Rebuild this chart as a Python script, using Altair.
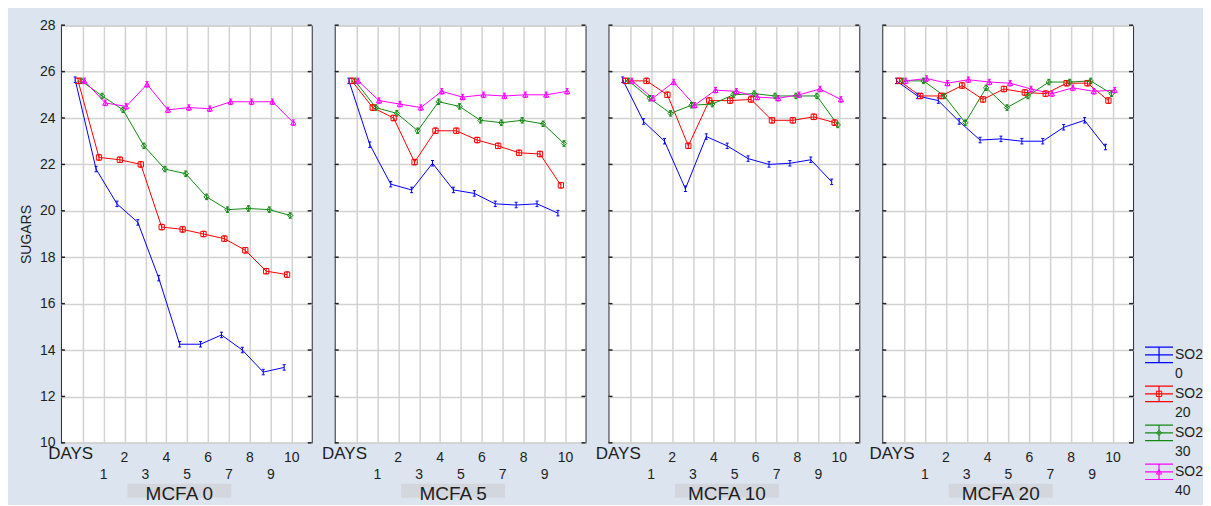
import altair as alt
import pandas as pd

# ---------------- data ----------------
DAYS = list(range(11))
DAY_LABELS = ["DAYS", "1", "2", "3", "4", "5", "6", "7", "8", "9", "10"]
SERIES = ["SO2 0", "SO2 20", "SO2 30", "SO2 40"]
PANELS = ["MCFA 0", "MCFA 5", "MCFA 10", "MCFA 20"]
Y_TICKS = list(range(10, 29, 2))

# MCFA 0
mcfa0_so2_0 = [25.65, 21.8, 20.3, 19.5, 17.1, 14.25, 14.25, 14.65, 14.0, 13.05, 13.25]
mcfa0_so2_20 = [25.6, 22.3, 22.2, 22.0, 19.3, 19.2, 19.0, 18.8, 18.3, 17.4, 17.25]
mcfa0_so2_30 = [25.6, 24.95, 24.35, 22.8, 21.8, 21.6, 20.6, 20.05, 20.1, 20.05, 19.8]
mcfa0_so2_40 = [25.6, 24.65, 24.5, 25.45, 24.35, 24.45, 24.4, 24.7, 24.7, 24.7, 23.8]
# MCFA 5
mcfa5_so2_0 = [25.6, 22.85, 21.15, 20.9, 22.05, 20.9, 20.75, 20.3, 20.25, 20.3, 19.9]
mcfa5_so2_20 = [25.6, 24.45, 24.0, 22.1, 23.45, 23.45, 23.05, 22.8, 22.5, 22.45, 21.1]
mcfa5_so2_30 = [25.6, 24.45, 24.2, 23.45, 24.7, 24.5, 23.9, 23.8, 23.9, 23.75, 22.9]
mcfa5_so2_40 = [25.6, 24.75, 24.6, 24.45, 25.15, 24.9, 25.0, 24.95, 25.0, 25.0, 25.15]
# MCFA 10
mcfa10_so2_0 = [25.65, 23.85, 23.0, 20.95, 23.2, 22.8, 22.25, 22.0, 22.05, 22.2, 21.25]
mcfa10_so2_20 = [25.6, 25.6, 25.0, 22.8, 24.75, 24.75, 24.8, 23.9, 23.9, 24.05, 23.8]
mcfa10_so2_30 = [25.6, 24.85, 24.2, 24.55, 24.6, 25.0, 25.05, 24.95, 24.95, 24.95, 23.7]
mcfa10_so2_40 = [25.6, 24.85, 25.55, 24.55, 25.2, 25.15, 24.9, 24.85, 25.0, 25.25, 24.8]
# MCFA 20
mcfa20_so2_0 = [25.6, 24.95, 24.75, 23.85, 23.05, 23.1, 23.0, 23.0, 23.6, 23.9, 22.75]
mcfa20_so2_20 = [25.6, 24.95, 24.95, 25.4, 24.8, 25.25, 25.1, 25.05, 25.5, 25.5, 24.75]
mcfa20_so2_30 = [25.6, 25.6, 24.95, 23.8, 25.3, 24.45, 24.95, 25.55, 25.55, 25.6, 25.05]
mcfa20_so2_40 = [25.6, 25.7, 25.5, 25.65, 25.55, 25.5, 25.25, 25.05, 25.3, 25.15, 25.2]

panel_lists = [
    [mcfa0_so2_0, mcfa0_so2_20, mcfa0_so2_30, mcfa0_so2_40],
    [mcfa5_so2_0, mcfa5_so2_20, mcfa5_so2_30, mcfa5_so2_40],
    [mcfa10_so2_0, mcfa10_so2_20, mcfa10_so2_30, mcfa10_so2_40],
    [mcfa20_so2_0, mcfa20_so2_20, mcfa20_so2_30, mcfa20_so2_40],
]
rows = []
for p, lists in zip(PANELS, panel_lists):
    for s, vals in zip(SERIES, lists):
        for d, v in zip(DAYS, vals):
            rows.append({"panel": p, "series": s, "day": d, "sugars": v})
df = pd.DataFrame(rows)

# ---------------- style ----------------
COLORS = ["#0000ff", "#ff0000", "#128a12", "#ff00ff"]
X_SHIFT = [-0.36, -0.22, -0.07, 0.08]   # small dodge of each series (style)
shift_expr = "datum.day + (" + "".join(
    f"datum.series == '{s}' ? {o} : " for s, o in zip(SERIES[:-1], X_SHIFT[:-1])
) + f"{X_SHIFT[-1]})"

IPATH = "M-0.55,-1H0.55M0,-1V1M-0.55,1H0.55"
LEGPATH = "M-1,-0.55H1M-1,0H1M-1,0.55H1M0,-0.55V0.55"
SHAPES = [IPATH, "square", "diamond", "triangle-up"]

W, H = 251, 418
BOTTOM = 55          # room below the plot for labels and panel title
GRID = "#d2d2d2"
INK = "#1e1e1e"
FONT = "Liberation Sans"

color = alt.Color("series:N", scale=alt.Scale(domain=SERIES, range=COLORS), legend=None)
shape = alt.Shape("series:N", scale=alt.Scale(domain=SERIES, range=SHAPES), legend=None)
xscale = alt.Scale(domain=[-1.04, 10.96], nice=False, zero=False)
yscale = alt.Scale(domain=[10, 28], nice=False, zero=False)
xaxis = alt.Axis(values=DAYS, grid=True, gridColor=GRID, gridWidth=1.5, labels=False,
                 ticks=False, domain=False, title=None)


def yaxis(first):
    if first:
        return alt.Axis(values=Y_TICKS, grid=True, gridColor=GRID, gridWidth=1.5, ticks=False,
                        domain=False, labelFontSize=14, labelColor=INK, labelPadding=6,
                        title="SUGARS", titleFontSize=14, titleFontWeight="normal",
                        titleColor=INK, titlePadding=6)
    return alt.Axis(values=Y_TICKS, grid=True, gridColor=GRID, gridWidth=1.5, ticks=False,
                    domain=False, labels=False, title=None)


def make_panel(i, name):
    X = alt.X("xpos:Q", scale=xscale, axis=xaxis)
    Y = alt.Y("sugars:Q", scale=yscale, axis=yaxis(i == 0))
    base = alt.Chart(df[df.panel == name]).transform_calculate(xpos=shift_expr)
    line = base.mark_line(strokeWidth=1).encode(x=X, y=Y, color=color)
    errs = base.mark_point(shape=IPATH, size=30, filled=False, strokeWidth=1, opacity=1).encode(
        x=X, y=Y, color=color)
    marks = base.transform_filter(alt.datum.series != SERIES[0]).mark_point(
        filled=False, size=28, strokeWidth=1, opacity=1).encode(x=X, y=Y, color=color, shape=shape)

    tick_data = alt.Chart(pd.DataFrame({"sugars": Y_TICKS}))
    lticks = tick_data.mark_rule(color="#222", strokeWidth=1.5).encode(
        y=Y, x=alt.value(0), x2=alt.value(4))
    rticks = tick_data.mark_rule(color="#222", strokeWidth=1.5).encode(
        y=Y, x=alt.value(W - 4), x2=alt.value(W))

    lab = alt.Chart(pd.DataFrame({"day": DAYS, "label": DAY_LABELS})).transform_calculate(
        xpos="datum.day")
    top = lab.transform_filter("datum.day > 0 && datum.day % 2 == 0").mark_text(
        fontSize=14, color=INK, baseline="middle").encode(x=X, y=alt.value(H + 15), text="label:N")
    bottom = lab.transform_filter("datum.day % 2 == 1").mark_text(
        fontSize=14, color=INK, baseline="middle").encode(x=X, y=alt.value(H + 32), text="label:N")
    days = lab.transform_filter("datum.day == 0").mark_text(
        fontSize=17, color=INK, baseline="middle", dx=-12).encode(
        x=X, y=alt.value(H + 11), text="label:N")

    tdf = pd.DataFrame({"title": [name]})
    box = alt.Chart(tdf).mark_rect(color="#d3d7dd").encode(
        x=alt.value(W / 2 - 59), x2=alt.value(W / 2 + 45),
        y=alt.value(H + 41), y2=alt.value(H + BOTTOM))
    ttl = alt.Chart(tdf).mark_text(fontSize=19, color=INK, baseline="middle").encode(
        x=alt.value(W / 2 - 7), y=alt.value(H + 51), text="title:N")

    return alt.layer(line, errs, marks, lticks, rticks, top, bottom, days, box, ttl).properties(
        width=W, height=H,
        view=alt.ViewBackground(fill="white", stroke="#2a2a2a", strokeWidth=1))


panels = [make_panel(i, p) for i, p in enumerate(PANELS)]

# ---------------- legend ----------------
leg = alt.Chart(pd.DataFrame({"series": SERIES}))
LY = alt.Y("series:N", scale=alt.Scale(type="point", domain=SERIES, range=[330, 447], padding=0),
           axis=None)
sym = leg.mark_point(shape=LEGPATH, size=784, filled=False, strokeWidth=1.2, opacity=1).encode(
    x=alt.value(3), y=LY, color=color)
mk = leg.transform_filter(alt.datum.series != SERIES[0]).mark_point(
    filled=False, size=28, strokeWidth=1, opacity=1).encode(
    x=alt.value(3), y=LY, color=color, shape=shape)
txt = leg.mark_text(align="left", baseline="middle", lineBreak=" ", lineHeight=19, fontSize=14,
                    color=INK, clip=True).encode(x=alt.value(19), y=LY, text="series:N")
legend = alt.layer(sym, mk, txt).properties(
    width=47, height=H + BOTTOM, view=alt.ViewBackground(stroke=None, fill=None))

chart = alt.hconcat(*panels, legend, spacing=23, bounds="flush").properties(
    background="#dce4ef",
    padding={"left": 10, "top": 9, "right": 0, "bottom": 0},
).configure(font=FONT)

chart.save("out.html", embed_options={"renderer": "svg", "actions": False})
